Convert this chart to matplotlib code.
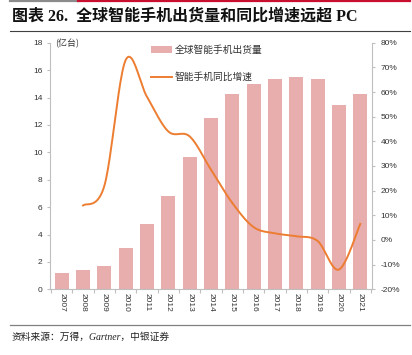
import numpy as np
import matplotlib
matplotlib.use("Agg")
import matplotlib.pyplot as plt
from matplotlib.lines import Line2D
from matplotlib.patches import Patch

plt.rcParams['font.family'] = ['Liberation Sans', 'Noto Sans CJK SC', 'DejaVu Sans']

years = ['2007', '2008', '2009', '2010', '2011', '2012', '2013', '2014',
         '2015', '2016', '2017', '2018', '2019', '2020', '2021']
shipments = [1.21, 1.41, 1.72, 3.01, 4.74, 6.81, 9.66, 12.48,
             14.23, 14.96, 15.35, 15.52, 15.35, 13.43, 14.26]
growth_years = years[1:]
growth = [14.0, 22.0, 73.0, 58.0, 44.0, 42.0, 28.5, 15.0,
          5.2, 2.7, 1.5, -0.4, -12.0, 6.5]

left_ticks = [0, 2, 4, 6, 8, 10, 12, 14, 16, 18]
right_ticks = [-20, -10, 0, 10, 20, 30, 40, 50, 60, 70, 80]

bar_color = '#E8ADAD'
line_color = '#ED7D31'
grey = '#BFBFBF'
txt = '#333333'

W, H = 412, 355
fig = plt.figure(figsize=(W / 100, H / 100), dpi=100)

def fx(px):
    return px / W

def fy(py):
    return 1 - py / H

ax = fig.add_axes([fx(50), fy(289.3), fx(372) - fx(50), fy(42.7) - fy(289.3)])
x = np.arange(len(years))
ax.bar(x, shipments, width=0.66, color=bar_color, zorder=2)
ax.set_xlim(-0.55, len(years) - 0.45)
ax.set_ylim(0, 18)
ax.set_yticks(left_ticks)
ax.set_yticklabels([str(v) for v in left_ticks])
ax.set_xticks(x)
ax.set_xticklabels(years, rotation=-90)
ax.set_xticks(np.arange(-0.5, len(years), 1.0), minor=True)
ax.tick_params(axis='x', which='major', length=0, pad=2.5, labelsize=6, labelcolor=txt)
ax.tick_params(axis='x', which='minor', length=3, color=grey, width=0.8)
ax.tick_params(axis='y', length=2, color=grey, width=0.8, pad=3.5, labelsize=6, labelcolor=txt)
for s in ['top', 'right']:
    ax.spines[s].set_visible(False)
for s in ['left', 'bottom']:
    ax.spines[s].set_color(grey)
    ax.spines[s].set_linewidth(0.8)

ax2 = ax.twinx()
ax2.set_ylim(-20, 80)
ax2.set_yticks(right_ticks)
ax2.set_yticklabels([f'{v}%' for v in right_ticks])
ax2.tick_params(axis='y', length=2, color=grey, width=0.8, pad=4, labelsize=6, labelcolor=txt)
for s in ['top', 'left', 'bottom']:
    ax2.spines[s].set_visible(False)
ax2.spines['right'].set_color(grey)
ax2.spines['right'].set_linewidth(0.8)

# smoothed line (Excel-style Bezier smoothing through the data points)
gx = np.array([years.index(y) for y in growth_years], dtype=float)
gy = np.array(growth, dtype=float)
P = np.column_stack([gx, gy])
pts = []
n = len(P)
t = np.linspace(0, 1, 25)
for i in range(n - 1):
    p0 = P[i]
    p3 = P[i + 1]
    pm = P[i - 1] if i > 0 else P[i]
    pp = P[i + 2] if i + 2 < n else P[i + 1]
    c1 = p0 + (p3 - pm) / 6
    c2 = p3 - (pp - p0) / 6
    seg = ((1 - t) ** 3)[:, None] * p0 + (3 * (1 - t) ** 2 * t)[:, None] * c1 \
        + (3 * (1 - t) * t ** 2)[:, None] * c2 + (t ** 3)[:, None] * p3
    pts.append(seg if i == 0 else seg[1:])
curve = np.vstack(pts)
ax2.plot(curve[:, 0], curve[:, 1], color=line_color, lw=1.4, zorder=3)

handles = [Patch(facecolor=bar_color, edgecolor='none'),
           Line2D([], [], color=line_color, lw=1.4)]
labels = ['全球智能手机出货量', '智能手机同比增速']
ax2.legend(handles, labels, loc='upper left', bbox_to_anchor=(fx(151), fy(45)),
           bbox_transform=fig.transFigure, frameon=False,
           prop={'family': ['Noto Sans CJK SC', 'DejaVu Sans'], 'size': 7},
           handlelength=2.2, handletextpad=0.2, labelspacing=1.75,
           borderpad=0, borderaxespad=0, labelcolor=txt)

fig.text(fx(55), fy(43.5), '(亿台)', fontsize=6.5, color=txt, va='center', ha='left',
         family=['Noto Sans CJK SC', 'DejaVu Sans'])

# decorations
fig.add_artist(Line2D([fx(10), fx(78)], [fy(0.8), fy(0.8)], color='#8C8C8C', lw=1.6))
fig.add_artist(Line2D([fx(78), fx(410)], [fy(0.8), fy(0.8)], color='#C8102E', lw=1.6))
fig.add_artist(Line2D([fx(10), fx(410)], [fy(31), fy(31)], color='#404040', lw=0.8))
fig.add_artist(Line2D([fx(10), fx(410)], [fy(324.5), fy(324.5)], color='#808080', lw=0.9))

fig.text(fx(12), fy(17), '图表 26.  全球智能手机出货量和同比增速远超 PC', fontsize=11.5,
         fontweight='bold', color='#111111', va='center', ha='left',
         family=['Liberation Serif', 'Noto Sans CJK SC'])
fig.text(fx(12), fy(337), '资料来源：万得，Gartner，中银证券', fontsize=7, style='italic',
         color='#222222', va='center', ha='left',
         family=['Liberation Serif', 'Noto Sans CJK SC'])

fig.savefig('out.png', dpi=100)
